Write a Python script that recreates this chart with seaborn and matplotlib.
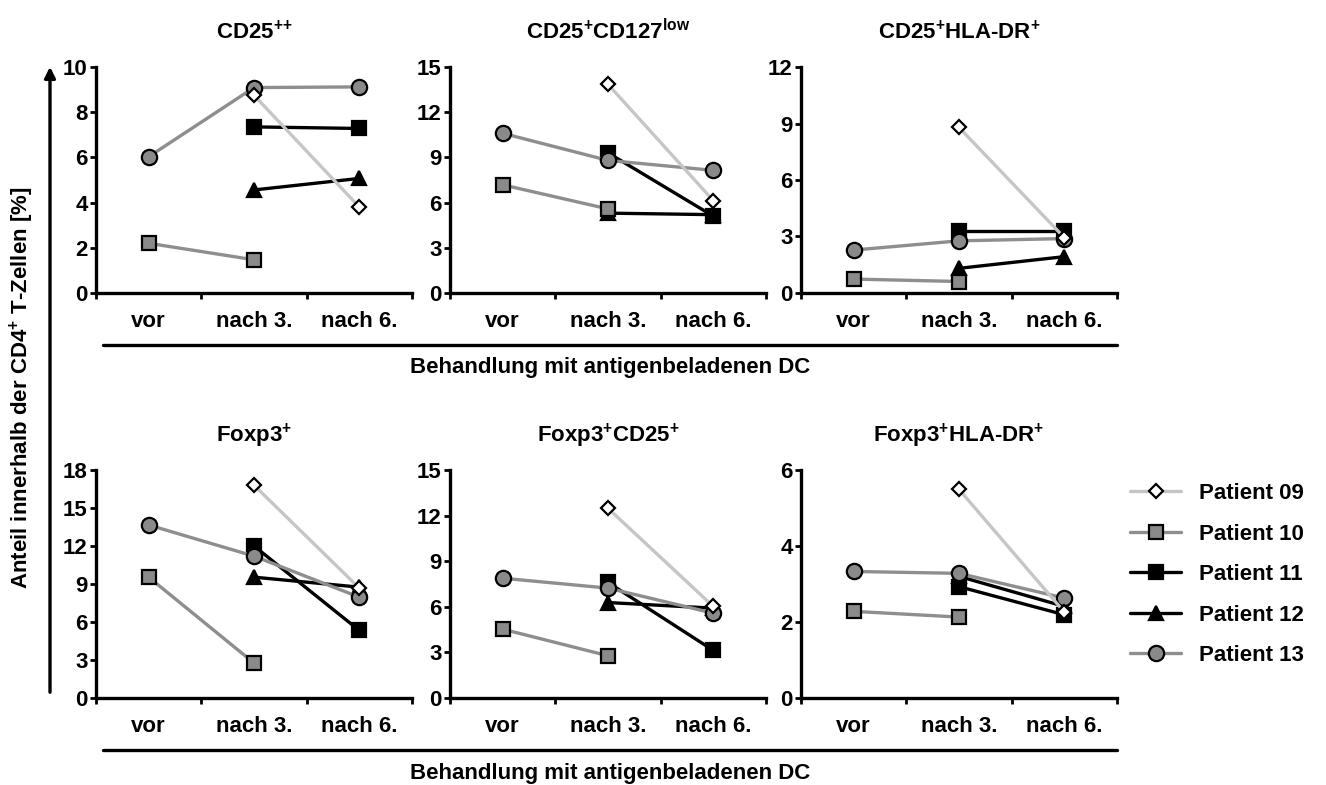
import numpy as np
import pandas as pd
import matplotlib
matplotlib.use("Agg")
import matplotlib.pyplot as plt
from matplotlib.lines import Line2D
from matplotlib.patches import FancyArrowPatch
from matplotlib.ticker import FixedLocator, MultipleLocator
import seaborn as sns

nan = np.nan

stages = ["vor", "nach 3.", "nach 6."]
patients = ["Patient 09", "Patient 10", "Patient 11", "Patient 12", "Patient 13"]

# values per panel, one list per patient (vor, nach 3., nach 6.)
cd25_pp = {
    "Patient 09": [nan, 8.75, 3.8],
    "Patient 10": [2.2, 1.47, nan],
    "Patient 11": [nan, 7.35, 7.28],
    "Patient 12": [nan, 4.56, 5.07],
    "Patient 13": [6.03, 9.09, 9.12],
}
cd25_cd127low = {
    "Patient 09": [nan, 13.85, 6.13],
    "Patient 10": [7.18, 5.58, nan],
    "Patient 11": [nan, 9.3, 5.1],
    "Patient 12": [nan, 5.3, 5.2],
    "Patient 13": [10.6, 8.8, 8.14],
}
cd25_hladr = {
    "Patient 09": [nan, 8.79, 2.94],
    "Patient 10": [0.74, 0.61, nan],
    "Patient 11": [nan, 3.3, 3.3],
    "Patient 12": [nan, 1.31, 1.93],
    "Patient 13": [2.28, 2.77, 2.89],
}
foxp3 = {
    "Patient 09": [nan, 16.8, 8.67],
    "Patient 10": [9.54, 2.76, nan],
    "Patient 11": [nan, 12.0, 5.33],
    "Patient 12": [nan, 9.54, 8.75],
    "Patient 13": [13.66, 11.2, 7.96],
}
foxp3_cd25 = {
    "Patient 09": [nan, 12.48, 6.02],
    "Patient 10": [4.53, 2.78, nan],
    "Patient 11": [nan, 7.6, 3.13],
    "Patient 12": [nan, 6.28, 5.91],
    "Patient 13": [7.88, 7.23, 5.58],
}
foxp3_hladr = {
    "Patient 09": [nan, 5.49, 2.26],
    "Patient 10": [2.28, 2.13, nan],
    "Patient 11": [nan, 2.93, 2.19],
    "Patient 12": [nan, 3.2, 2.41],
    "Patient 13": [3.33, 3.28, 2.63],
}

panel_titles = [
    "CD25$^{{+}{+}}$",
    "CD25$^{+}$CD127$^{low}$",
    "CD25$^{+}$HLA-DR$^{+}$",
    "Foxp3$^{+}$",
    "Foxp3$^{+}$CD25$^{+}$",
    "Foxp3$^{+}$HLA-DR$^{+}$",
]
panel_data = [cd25_pp, cd25_cd127low, cd25_hladr, foxp3, foxp3_cd25, foxp3_hladr]
y_max = [10, 15, 12, 18, 15, 6]
y_step = [2, 3, 3, 3, 3, 2]

styles = {
    "Patient 09": dict(color="#c6c6c6", marker="D", ms=7, mfc="white", z=6),
    "Patient 10": dict(color="#8e8e8e", marker="s", ms=10, mfc="#8a8a8a", z=4),
    "Patient 11": dict(color="black", marker="s", ms=10, mfc="black", z=2),
    "Patient 12": dict(color="black", marker="^", ms=10, mfc="black", z=3),
    "Patient 13": dict(color="#8e8e8e", marker="o", ms=11, mfc="#8a8a8a", z=5),
}

W, H = 1326, 785
FS = 16


def to_long(d: dict) -> pd.DataFrame:
    rows = []
    for name in patients:
        for i, v in enumerate(d[name]):
            rows.append({"patient": name, "pos": i, "value": v})
    return pd.DataFrame(rows)


def px_rect(left, top, right, bottom):
    return [left / W, 1 - bottom / H, (right - left) / W, (bottom - top) / H]


sns.set_style("ticks")
plt.rcParams["font.family"] = ["Liberation Sans", "DejaVu Sans"]
plt.rcParams["font.weight"] = "bold"
plt.rcParams["mathtext.default"] = "regular"
for key in ["text.color", "axes.labelcolor", "xtick.color", "ytick.color", "axes.edgecolor"]:
    plt.rcParams[key] = "black"

fig = plt.figure(figsize=(W / 100, H / 100), dpi=100)

lefts = [96, 450, 801]
rows_px = [(67, 293), (470, 698)]

axes = []
for k in range(6):
    r, c = divmod(k, 3)
    top, bottom = rows_px[r]
    ax = fig.add_axes(px_rect(lefts[c], top, lefts[c] + 316, bottom))
    df = to_long(panel_data[k])
    for name in patients:
        st = styles[name]
        sns.lineplot(
            data=df[df["patient"] == name], x="pos", y="value", ax=ax,
            color=st["color"], marker=st["marker"], markersize=st["ms"],
            markerfacecolor=st["mfc"], markeredgecolor="black", markeredgewidth=1.6,
            linewidth=2.4, zorder=st["z"], errorbar=None, label=name, legend=False,
        )
    ax.set_xlim(-0.5, 2.5)
    ax.set_ylim(0, y_max[k])
    ax.yaxis.set_major_locator(MultipleLocator(y_step[k]))
    ax.set_xticks(range(len(stages)))
    ax.set_xticklabels(stages)
    ax.xaxis.set_minor_locator(FixedLocator([-0.5, 0.5, 1.5, 2.5]))
    ax.tick_params(axis="x", which="major", length=0, pad=13, labelsize=FS)
    ax.tick_params(axis="x", which="minor", length=4, width=2, direction="out", color="black")
    ax.tick_params(axis="y", length=4, width=2, direction="out", pad=2, labelsize=FS, color="black")
    for lab in ax.get_xticklabels() + ax.get_yticklabels():
        lab.set_fontweight("bold")
    sns.despine(ax=ax)
    for s in ["left", "bottom"]:
        ax.spines[s].set_linewidth(2.4)
        ax.spines[s].set_color("black")
    ax.set_xlabel("")
    ax.set_ylabel("")
    ax.set_title(panel_titles[k], fontsize=FS, fontweight="bold", pad=20)
    axes.append(ax)

# group lines and captions under each row
for y_line, y_text in [(345, 367), (750, 773)]:
    fig.add_artist(Line2D([103 / W, 1117 / W], [1 - y_line / H, 1 - y_line / H],
                          transform=fig.transFigure, color="black", linewidth=2.4))
    fig.text(610 / W, 1 - y_text / H, "Behandlung mit antigenbeladenen DC",
             ha="center", va="center", fontsize=FS, fontweight="bold")

# y-axis label with arrow
fig.add_artist(FancyArrowPatch((50 / W, 1 - 695 / H), (50 / W, 1 - 64 / H),
                               transform=fig.transFigure, arrowstyle="-|>",
                               mutation_scale=16, linewidth=2.4, color="black"))
fig.text(22 / W, 1 - 388 / H, "Anteil innerhalb der CD4$^{+}$ T-Zellen [%]",
         rotation=90, ha="center", va="center", fontsize=FS, fontweight="bold")

handles, labels = axes[-1].get_legend_handles_labels()
order = [labels.index(p) for p in patients]
fig.legend([handles[i] for i in order], [labels[i] for i in order],
           loc="upper left", bbox_to_anchor=(1130 / W, 1 - 483 / H),
           frameon=False, handlelength=2.3, handletextpad=0.8,
           labelspacing=0.88, borderpad=0, borderaxespad=0, numpoints=1,
           prop={"weight": "bold", "size": FS})

fig.savefig("out.png", dpi=100)
